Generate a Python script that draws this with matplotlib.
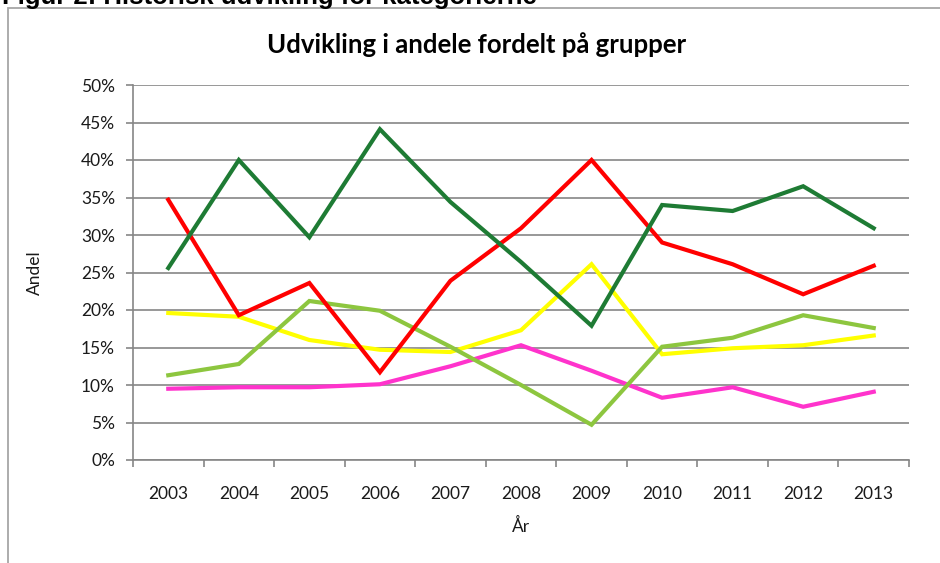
import numpy as np
import matplotlib.pyplot as plt
from matplotlib.patches import Rectangle
from matplotlib.ticker import PercentFormatter, FixedLocator

years = ['2003', '2004', '2005', '2006', '2007', '2008', '2009', '2010', '2011', '2012', '2013']
dark_green = [25.6, 40.0, 29.7, 44.1, 34.4, 26.4, 17.9, 34.0, 33.2, 36.5, 30.9]
red = [34.7, 19.3, 23.6, 11.7, 23.9, 30.9, 40.0, 29.0, 26.1, 22.1, 25.9]
yellow = [19.6, 19.1, 16.0, 14.7, 14.4, 17.3, 26.1, 14.1, 14.9, 15.3, 16.6]
light_green = [11.3, 12.8, 21.2, 19.9, 15.1, 10.0, 4.7, 15.1, 16.3, 19.3, 17.6]
magenta = [9.5, 9.7, 9.7, 10.1, 12.5, 15.3, 11.9, 8.3, 9.7, 7.1, 9.1]

series = [
    (magenta, '#FF33CC'),
    (yellow, '#FFFF00'),
    (light_green, '#8DC63F'),
    (red, '#FF0000'),
    (dark_green, '#1E7B34'),
]

fig = plt.figure(figsize=(9.4, 5.63), dpi=100)

# outer chart frame (only top/left visible in the crop)
fig.patches.append(Rectangle((8 / 940, -0.1), 1.1, 1 - 8 / 563 + 0.1,
                             transform=fig.transFigure, fill=False,
                             edgecolor='#A6A6A6', linewidth=1.3))
# caption above the chart, cut off by the crop like in the source
fig.text(0.002, 1 - 4 / 563, 'Figur 2: Historisk udvikling for kategorierne',
         ha='left', va='baseline', fontsize=18.5, fontweight='bold',
         family='Liberation Sans', color='black')

ax = fig.add_axes([133 / 940, 1 - 460 / 563, (909 - 133) / 940, (460 - 85) / 563])

x = np.arange(len(years))
for vals, col in series:
    ax.plot(x, vals, color=col, linewidth=3.0, solid_joinstyle='miter')

ax.set_xlim(-0.5, len(years) - 0.5)
ax.set_ylim(0, 50)
ax.set_yticks(np.arange(0, 51, 5))
ax.yaxis.set_major_formatter(PercentFormatter(decimals=0))
ax.set_xticks(x)
ax.set_xticklabels(years)
ax.xaxis.set_minor_locator(FixedLocator(np.arange(-0.5, len(years), 1)))
ax.tick_params(axis='x', which='major', length=0, pad=19)
ax.tick_params(axis='x', which='minor', length=5, color='#868686', width=1.2)
ax.tick_params(axis='y', length=5, color='#868686', width=1.2, pad=8)

ax.grid(axis='y', color='#868686', linewidth=1.2)
ax.set_axisbelow(True)
for s in ['top', 'right']:
    ax.spines[s].set_visible(False)
for s in ['left', 'bottom']:
    ax.spines[s].set_color('#868686')
    ax.spines[s].set_linewidth(1.2)

for lab in ax.get_xticklabels() + ax.get_yticklabels():
    lab.set_family('Lato')
    lab.set_fontsize(12.5)
    lab.set_color('#1A1A1A')

ax.set_ylabel('Andel', family='Lato', fontsize=12.5, color='#1A1A1A', labelpad=27)
ax.set_xlabel('År', family='Lato', fontsize=12.5, color='#1A1A1A', labelpad=11)
fig.text(477 / 940, 1 - 45 / 563, 'Udvikling i andele fordelt på grupper',
         ha='center', va='center', family='Lato', fontweight='bold',
         fontsize=18.5, color='black')

fig.savefig('out.png', dpi=100)
